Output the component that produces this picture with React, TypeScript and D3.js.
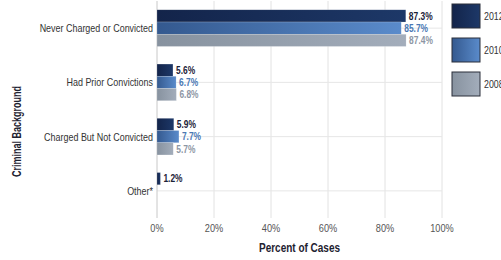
import React, { useRef, useEffect } from 'react';
import * as d3 from 'd3';

const categories = ['Never Charged or Convicted', 'Had Prior Convictions', 'Charged But Not Convicted', 'Other*'];
const years = ['2012', '2010', '2008'];
const values2012 = [87.3, 5.6, 5.9, 1.2];
const values2010 = [85.7, 6.7, 7.7, null];
const values2008 = [87.4, 6.8, 5.7, null];
const xTicks = [0, 20, 40, 60, 80, 100];

const barColors = {
  '2012': ['#13244a', '#1d3868'],
  '2010': ['#34598f', '#5a8bcb'],
  '2008': ['#87929f', '#a3adbb'],
};
const labelColors = { '2012': '#1b2238', '2010': '#4a78b4', '2008': '#8d96a4' };

const W = 501;
const H = 260;
const SQ = 0.8; // the reference text is squeezed sideways
const font = '"Liberation Sans", Arial, sans-serif';

// place a horizontally condensed text
const at = (x, y) => `translate(${x},${y}) scale(${SQ},1)`;

const App = () => {
  const svgRef = useRef(null);

  useEffect(() => {
    const svg = d3.select(svgRef.current);
    svg.selectAll('*').remove();

    const margin = { top: 1, left: 157, right: 59, bottom: 42 };
    const series = years.map((y, i) => ({
      year: y,
      values: [values2012, values2010, values2008][i],
    }));

    const x = d3.scaleLinear().domain([0, 100]).range([margin.left, W - margin.right]);
    const y0 = d3.scaleBand().domain(categories).range([margin.top, H - margin.bottom]);
    const y1 = d3.scaleBand().domain(years).range([0, y0.bandwidth()]).paddingOuter(0.72);

    const defs = svg.append('defs');
    years.forEach(yr => {
      const g = defs.append('linearGradient').attr('id', `grad${yr}`)
        .attr('x1', 0).attr('x2', 1).attr('y1', 0).attr('y2', 0);
      g.append('stop').attr('offset', '0%').attr('stop-color', barColors[yr][0]);
      g.append('stop').attr('offset', '100%').attr('stop-color', barColors[yr][1]);
    });

    // grid
    svg.append('g')
      .selectAll('line')
      .data(xTicks.slice(1))
      .join('line')
      .attr('x1', d => x(d)).attr('x2', d => x(d))
      .attr('y1', margin.top).attr('y2', H - margin.bottom)
      .attr('stroke', '#e2e2e2').attr('stroke-width', 1);

    svg.append('g')
      .selectAll('line')
      .data(categories)
      .join('line')
      .attr('x1', x(0)).attr('x2', x(100))
      .attr('y1', d => y0(d) + y0.bandwidth() / 2).attr('y2', d => y0(d) + y0.bandwidth() / 2)
      .attr('stroke', '#e6e6e6').attr('stroke-width', 1);

    svg.append('line')
      .attr('x1', x(0)).attr('x2', x(0))
      .attr('y1', margin.top).attr('y2', H - margin.bottom)
      .attr('stroke', '#c8c8c8');

    // bars
    const groups = svg.append('g')
      .selectAll('g')
      .data(series)
      .join('g');

    const rows = s => s.values.map((v, i) => ({ year: s.year, cat: categories[i], v })).filter(d => d.v != null);

    groups.selectAll('rect')
      .data(rows)
      .join('rect')
      .attr('x', x(0))
      .attr('y', d => y0(d.cat) + y1(d.year))
      .attr('width', d => x(d.v) - x(0))
      .attr('height', y1.bandwidth())
      .attr('fill', d => `url(#grad${d.year})`)
      .attr('stroke', 'rgba(255,255,255,0.35)')
      .attr('stroke-width', 0.5);

    groups.selectAll('text')
      .data(rows)
      .join('text')
      .attr('transform', d => at(x(d.v) + 3, y0(d.cat) + y1(d.year) + y1.bandwidth() / 2))
      .attr('dy', '0.35em')
      .attr('font-family', font)
      .attr('font-weight', 'bold')
      .attr('font-size', 10.5)
      .attr('fill', d => labelColors[d.year])
      .text(d => `${d.v.toFixed(1)}%`);

    // category labels
    svg.append('g')
      .selectAll('text')
      .data(categories)
      .join('text')
      .attr('transform', d => at(x(0) - 4, y0(d) + y0.bandwidth() / 2))
      .attr('dy', '0.35em')
      .attr('text-anchor', 'end')
      .attr('font-family', font)
      .attr('font-size', 11.2)
      .attr('fill', '#333')
      .text(d => d);

    // x ticks
    svg.append('g')
      .selectAll('text')
      .data(xTicks)
      .join('text')
      .attr('transform', d => at(x(d), 232))
      .attr('text-anchor', 'middle')
      .attr('font-family', font)
      .attr('font-size', 11.5)
      .attr('fill', '#555')
      .text(d => `${d}%`);

    svg.append('text')
      .attr('transform', at((x(0) + x(100)) / 2, 252))
      .attr('text-anchor', 'middle')
      .attr('font-family', font)
      .attr('font-weight', 'bold')
      .attr('font-size', 12.5)
      .attr('fill', '#1e2230')
      .text('Percent of Cases');

    svg.append('text')
      .attr('transform', `translate(21,${(margin.top + H - margin.bottom) / 2 + 22}) rotate(-90) scale(0.9,1.25)`)
      .attr('text-anchor', 'middle')
      .attr('font-family', font)
      .attr('font-weight', 'bold')
      .attr('font-size', 10)
      .attr('fill', '#1e2230')
      .text('Criminal Background');

    // legend
    const leg = svg.append('g')
      .selectAll('g')
      .data(years)
      .join('g')
      .attr('transform', (d, i) => `translate(452,${4 + i * 34})`);

    leg.append('rect')
      .attr('width', 28).attr('height', 24)
      .attr('fill', d => `url(#grad${d})`)
      .attr('stroke', '#2a2f3a').attr('stroke-width', 1);

    leg.append('text')
      .attr('transform', at(32, 12))
      .attr('dy', '0.35em')
      .attr('font-family', font)
      .attr('font-size', 11)
      .attr('fill', '#333')
      .text(d => d);
  }, []);

  return (
    <svg
      ref={svgRef}
      width={W}
      height={H}
      style={{ position: 'absolute', left: 0, top: 0, background: '#fff' }}
    />
  );
};

export default App;
